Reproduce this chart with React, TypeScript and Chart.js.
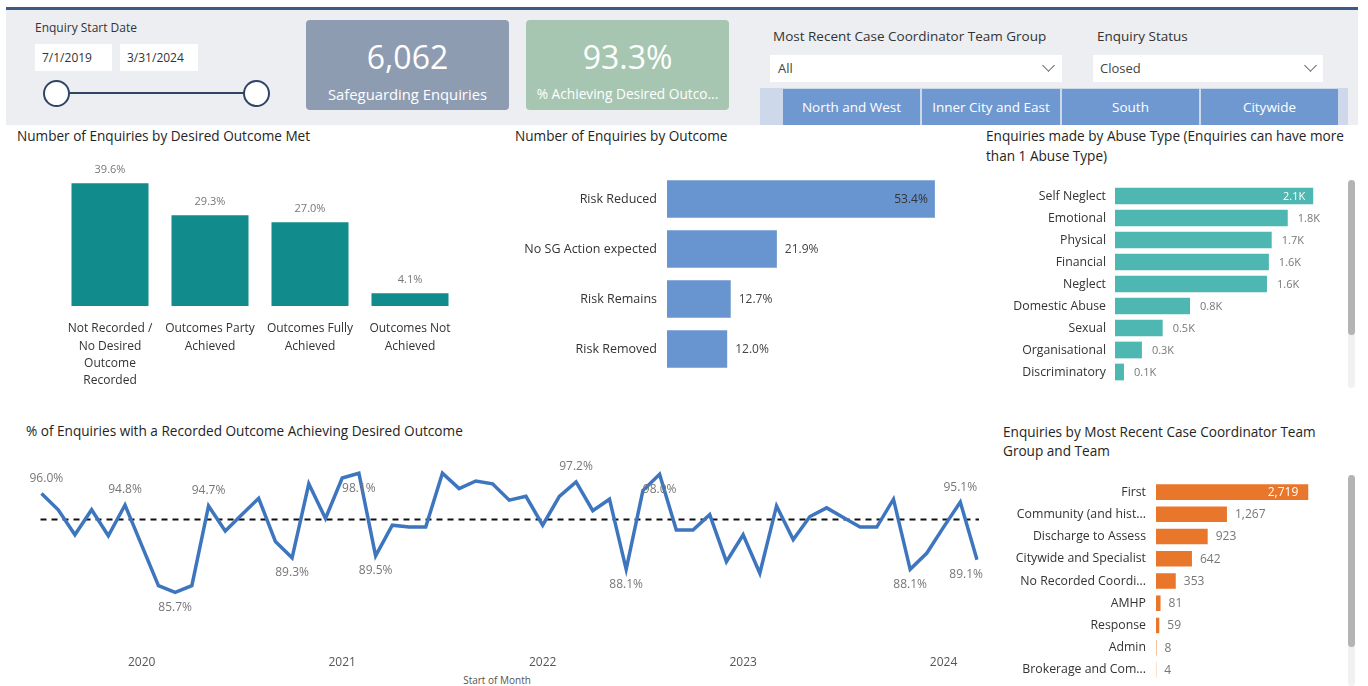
import React, { useEffect, useRef } from "react";
import { Chart, registerables } from "chart.js";
Chart.register(...registerables);

const FONT = "'Open Sans', 'Noto Sans', 'DejaVu Sans', sans-serif";

// ---------------- data ----------------
const outcomeMetCategories = [
  ["Not Recorded /", "No Desired", "Outcome", "Recorded"],
  ["Outcomes Party", "Achieved"],
  ["Outcomes Fully", "Achieved"],
  ["Outcomes Not", "Achieved"],
];
const outcomeMetValues = [39.6, 29.3, 27.0, 4.1];

const outcomeCategories = ["Risk Reduced", "No SG Action expected", "Risk Remains", "Risk Removed"];
const outcomeValues = [53.4, 21.9, 12.7, 12.0];

const abuseCategories = [
  "Self Neglect",
  "Emotional",
  "Physical",
  "Financial",
  "Neglect",
  "Domestic Abuse",
  "Sexual",
  "Organisational",
  "Discriminatory",
];
const abuseValues = [2100, 1830, 1660, 1630, 1610, 795, 505, 285, 95];

const teamCategories = [
  "First",
  "Community (and hist...",
  "Discharge to Assess",
  "Citywide and Specialist",
  "No Recorded Coordi...",
  "AMHP",
  "Response",
  "Admin",
  "Brokerage and Com...",
];
const teamValues = [2719, 1267, 923, 642, 353, 81, 59, 8, 4];

const monthLabels = [
  "Jul 2019", "Aug 2019", "Sep 2019", "Oct 2019", "Nov 2019", "Dec 2019",
  "Jan 2020", "Feb 2020", "Mar 2020", "Apr 2020", "May 2020", "Jun 2020",
  "Jul 2020", "Aug 2020", "Sep 2020", "Oct 2020", "Nov 2020", "Dec 2020",
  "Jan 2021", "Feb 2021", "Mar 2021", "Apr 2021", "May 2021", "Jun 2021",
  "Jul 2021", "Aug 2021", "Sep 2021", "Oct 2021", "Nov 2021", "Dec 2021",
  "Jan 2022", "Feb 2022", "Mar 2022", "Apr 2022", "May 2022", "Jun 2022",
  "Jul 2022", "Aug 2022", "Sep 2022", "Oct 2022", "Nov 2022", "Dec 2022",
  "Jan 2023", "Feb 2023", "Mar 2023", "Apr 2023", "May 2023", "Jun 2023",
  "Jul 2023", "Aug 2023", "Sep 2023", "Oct 2023", "Nov 2023", "Dec 2023",
  "Jan 2024", "Feb 2024", "Mar 2024",
];
const pctAchieving = [
  96.0, 94.3, 91.7, 94.3, 91.6, 94.8,
  90.6, 86.4, 85.7, 86.4, 94.7, 92.1,
  93.8, 95.5, 91.0, 89.3, 97.0, 93.4,
  97.6, 98.1, 89.5, 92.7, 92.5, 92.5,
  98.1, 96.5, 97.3, 97.0, 95.3, 95.7,
  92.7, 95.7, 97.2, 94.2, 95.4, 88.1,
  96.3, 98.0, 92.2, 92.2, 93.8, 88.9,
  91.7, 87.7, 94.7, 91.2, 93.6, 94.5,
  93.5, 92.5, 92.5, 95.4, 88.1, 89.8,
  92.5, 95.1, 89.1,
];
const pctAverage = 93.3;
// which points carry a data label, and whether it sits above (a) or below (b)
const lineLabelIndex = [0, 5, 8, 10, 15, 19, 20, 32, 35, 37, 52, 55, 56];
const lineLabelSide = ["a", "a", "b", "a", "b", "b", "b", "a", "b", "b", "b", "a", "b"];

// ---------------- helpers ----------------
function Txt(props: any) {
  const { x, y, size = 13, color = "#252423", children, width, align = "left", weight = 400 } = props;
  return (
    <div
      style={{
        position: "absolute",
        left: x,
        top: y - 12,
        height: 24,
        lineHeight: "24px",
        fontSize: size,
        color,
        width,
        textAlign: align,
        fontWeight: weight,
        whiteSpace: "nowrap",
        fontFamily: FONT,
      }}
    >
      {children}
    </div>
  );
}

function ChartCanvas(props: any) {
  const { left, top, width, height, make } = props;
  const ref = useRef<HTMLCanvasElement>(null);
  useEffect(() => {
    const chart = new Chart(ref.current as HTMLCanvasElement, make());
    return () => chart.destroy();
  }, []);
  return (
    <canvas
      ref={ref}
      width={width}
      height={height}
      style={{ position: "absolute", left, top, width, height }}
    />
  );
}

function hbarLabelPlugin(values: number[], fmt: (v: number) => string, insideIdx: number[], o: any) {
  return {
    id: "hbarLabels",
    afterDatasetsDraw(chart: any) {
      const ctx = chart.ctx;
      const meta = chart.getDatasetMeta(0);
      ctx.save();
      ctx.font = `${o.size}px ${FONT}`;
      ctx.textBaseline = "middle";
      meta.data.forEach((el: any, i: number) => {
        const t = fmt(values[i]);
        if (insideIdx.indexOf(i) >= 0) {
          ctx.textAlign = "right";
          ctx.fillStyle = o.inColor;
          ctx.fillText(t, el.x - o.inGap, el.y + 0.5);
        } else {
          ctx.textAlign = "left";
          ctx.fillStyle = o.outColor;
          ctx.fillText(t, el.x + o.outGap, el.y + 0.5);
        }
      });
      ctx.restore();
    },
  };
}

function hbarConfig(
  labels: string[],
  values: number[],
  color: string,
  max: number,
  axisW: number,
  pad: any,
  barPct: number,
  tickPad: number,
  tickSize: number,
  plugin: any
) {
  return {
    type: "bar",
    data: {
      labels,
      datasets: [{ data: values, backgroundColor: color, barPercentage: barPct, categoryPercentage: 1 }],
    },
    options: {
      animation: false,
      responsive: false,
      indexAxis: "y",
      layout: { padding: pad },
      plugins: { legend: { display: false }, tooltip: { enabled: false } },
      scales: {
        x: { display: false, min: 0, max },
        y: {
          grid: { display: false, drawTicks: false },
          border: { display: false },
          ticks: { color: "#333", font: { family: FONT, size: tickSize }, padding: tickPad, autoSkip: false },
          afterFit: (s: any) => {
            s.width = axisW;
            s.paddingTop = 0;
            s.paddingBottom = 0;
          },
        },
      },
    },
    plugins: [plugin],
  } as any;
}

// ---------------- charts ----------------
const makeOutcomeMet = () =>
  ({
    type: "bar",
    data: {
      labels: outcomeMetCategories,
      datasets: [
        { data: outcomeMetValues, backgroundColor: "#118b8c", barPercentage: 0.77, categoryPercentage: 1 },
      ],
    },
    options: {
      animation: false,
      responsive: false,
      layout: { padding: { top: 1, left: 0, right: 0, bottom: 0 } },
      plugins: { legend: { display: false }, tooltip: { enabled: false } },
      scales: {
        x: {
          grid: { display: false, drawTicks: false },
          border: { display: false },
          ticks: {
            color: "#333",
            font: { family: FONT, size: 12, lineHeight: 1.45 },
            padding: 14,
            maxRotation: 0,
            autoSkip: false,
          },
          afterFit: (s: any) => {
            s.height = 94;
            s.paddingLeft = 0;
            s.paddingRight = 0;
          },
        },
        y: { display: false, min: 0, max: 50 },
      },
    },
    plugins: [
      {
        id: "vlabels",
        afterDatasetsDraw(chart: any) {
          const ctx = chart.ctx;
          const meta = chart.getDatasetMeta(0);
          ctx.save();
          ctx.font = `11px ${FONT}`;
          ctx.fillStyle = "#777";
          ctx.textAlign = "center";
          ctx.textBaseline = "middle";
          meta.data.forEach((el: any, i: number) => {
            ctx.fillText(outcomeMetValues[i].toFixed(1) + "%", el.x, el.y - 13);
          });
          ctx.restore();
        },
      },
    ],
  }) as any;

const makeOutcome = () =>
  hbarConfig(
    outcomeCategories,
    outcomeValues,
    "#6895cf",
    60,
    167,
    { top: 14, bottom: 16, right: 12, left: 0 },
    0.75,
    10,
    12.5,
    hbarLabelPlugin(outcomeValues, (v) => v.toFixed(1) + "%", [0], {
      size: 12,
      inColor: "#333",
      outColor: "#444",
      inGap: 7,
      outGap: 8,
    })
  );

const makeAbuse = () =>
  hbarConfig(
    abuseCategories,
    abuseValues,
    "#4fb7b2",
    2500,
    135,
    { top: 5, bottom: 7, right: 4, left: 0 },
    0.76,
    9,
    12.3,
    hbarLabelPlugin(abuseValues, (v) => (v / 1000).toFixed(1) + "K", [0], {
      size: 11,
      inColor: "#fff",
      outColor: "#777",
      inGap: 8,
      outGap: 10,
    })
  );

const makeTeam = () =>
  hbarConfig(
    teamCategories,
    teamValues,
    "#e8772c",
    3000,
    166,
    { top: 11, bottom: 5, right: 26, left: 0 },
    0.7,
    10,
    12.3,
    hbarLabelPlugin(teamValues, (v) => v.toLocaleString("en-US"), [0], {
      size: 12,
      inColor: "#fff",
      outColor: "#777",
      inGap: 10,
      outGap: 8,
    })
  );

const makeLine = () =>
  ({
    type: "line",
    data: {
      labels: monthLabels,
      datasets: [
        {
          data: pctAchieving,
          borderColor: "#3d76bf",
          borderWidth: 3.5,
          pointRadius: 0,
          tension: 0,
          fill: false,
        },
      ],
    },
    options: {
      animation: false,
      responsive: false,
      layout: { padding: { left: 41.5, right: 23, top: 15, bottom: 0 } },
      plugins: { legend: { display: false }, tooltip: { enabled: false } },
      scales: {
        x: {
          grid: { display: false, drawTicks: false },
          border: { display: false },
          ticks: {
            autoSkip: false,
            maxRotation: 0,
            minRotation: 0,
            padding: 27,
            color: "#555",
            font: { family: FONT, size: 12 },
            callback: (_v: any, i: number) =>
              monthLabels[i].startsWith("Jan") ? monthLabels[i].slice(4) : "",
          },
          afterFit: (s: any) => {
            s.height = 58;
            s.paddingLeft = 0;
            s.paddingRight = 0;
          },
        },
        y: { display: false, min: 82, max: 100 },
      },
    },
    plugins: [
      {
        id: "avgLine",
        beforeDatasetsDraw(chart: any) {
          const ctx = chart.ctx;
          const y = chart.scales.y.getPixelForValue(pctAverage);
          ctx.save();
          ctx.strokeStyle = "#111";
          ctx.lineWidth = 2;
          ctx.setLineDash([6, 5]);
          ctx.beginPath();
          ctx.moveTo(chart.chartArea.left - 1, y);
          ctx.lineTo(chart.chartArea.right + 2, y);
          ctx.stroke();
          ctx.restore();
        },
      },
      {
        id: "lineLabels",
        afterDatasetsDraw(chart: any) {
          const ctx = chart.ctx;
          const meta = chart.getDatasetMeta(0);
          const area = chart.chartArea;
          ctx.save();
          ctx.font = `12px ${FONT}`;
          ctx.fillStyle = "#777";
          ctx.textAlign = "center";
          ctx.textBaseline = "middle";
          lineLabelIndex.forEach((idx, k) => {
            const pt = meta.data[idx];
            const t = pctAchieving[idx].toFixed(1) + "%";
            const w = ctx.measureText(t).width;
            let x = pt.x;
            if (x - w / 2 < area.left - 12) x = area.left - 12 + w / 2;
            if (x + w / 2 > area.right + 6) x = area.right + 6 - w / 2;
            const y = lineLabelSide[k] === "a" ? pt.y - 15 : pt.y + 15;
            ctx.fillText(t, x, y);
          });
          ctx.restore();
        },
      },
    ],
  }) as any;

// ---------------- UI pieces ----------------
function Chevron(props: any) {
  return (
    <div
      style={{
        position: "absolute",
        left: props.x,
        top: props.y,
        width: 8,
        height: 8,
        borderRight: "1px solid #666",
        borderBottom: "1px solid #666",
        transform: "rotate(45deg)",
      }}
    />
  );
}

function Box(props: any) {
  return <div style={{ position: "absolute", ...props.s }}>{props.children}</div>;
}

const buttons = [
  { label: "North and West", x: 783, w: 137 },
  { label: "Inner City and East", x: 922, w: 138 },
  { label: "South", x: 1062, w: 137 },
  { label: "Citywide", x: 1201, w: 137 },
];

export default function App() {
  return (
    <div
      style={{
        position: "absolute",
        left: 0,
        top: 0,
        width: 1368,
        height: 686,
        overflow: "hidden",
        background: "#ffffff",
        fontFamily: FONT,
      }}
    >
      {/* top band */}
      <Box s={{ left: 6, top: 10, width: 1352, height: 115, background: "#eceef2" }} />
      <Box s={{ left: 6, top: 7, width: 1352, height: 3, background: "#3c5b82" }} />

      {/* date slicer */}
      <Txt x={35} y={28} size={12} color="#333">Enquiry Start Date</Txt>
      <Box s={{ left: 35, top: 44, width: 77, height: 27, background: "#fff" }} />
      <Box s={{ left: 120, top: 44, width: 78, height: 27, background: "#fff" }} />
      <Txt x={42} y={58} size={12} color="#333">7/1/2019</Txt>
      <Txt x={127} y={58} size={12} color="#333">3/31/2024</Txt>
      <Box s={{ left: 56, top: 92, width: 200, height: 2, background: "#2f4466" }} />
      <Box
        s={{ left: 43, top: 80, width: 23, height: 23, borderRadius: "50%", background: "#fff", border: "2px solid #2f4466" }}
      />
      <Box
        s={{ left: 243, top: 80, width: 23, height: 23, borderRadius: "50%", background: "#fff", border: "2px solid #2f4466" }}
      />

      {/* cards */}
      <Box s={{ left: 306, top: 20, width: 203, height: 90, background: "#8e9cb1", borderRadius: 4 }} />
      <Txt x={306} y={57} size={32} color="#fff" width={203} align="center">6,062</Txt>
      <Txt x={306} y={94} size={14.8} color="#fff" width={203} align="center">Safeguarding Enquiries</Txt>
      <Box s={{ left: 526, top: 20, width: 203, height: 90, background: "#a6c6b1", borderRadius: 4 }} />
      <Txt x={526} y={57} size={32} color="#fff" width={203} align="center">93.3%</Txt>
      <Txt x={526} y={94} size={13.7} color="#fff" width={203} align="center">% Achieving Desired Outco...</Txt>

      {/* dropdown slicers */}
      <Txt x={773} y={36} size={13.5} color="#333">Most Recent Case Coordinator Team Group</Txt>
      <Box s={{ left: 770, top: 55, width: 292, height: 27, background: "#fff" }} />
      <Txt x={778} y={68} size={13} color="#444">All</Txt>
      <Chevron x={1044} y={61} />
      <Txt x={1097} y={36} size={13.5} color="#333">Enquiry Status</Txt>
      <Box s={{ left: 1093, top: 55, width: 230, height: 27, background: "#fff" }} />
      <Txt x={1100} y={68} size={13} color="#444">Closed</Txt>
      <Chevron x={1306} y={61} />

      {/* team group buttons */}
      <Box s={{ left: 760, top: 88, width: 588, height: 37, background: "#cdd8ea" }} />
      {buttons.map((b) => (
        <React.Fragment key={b.label}>
          <Box s={{ left: b.x, top: 89, width: b.w, height: 36, background: "#6f98d0" }} />
          <Txt x={b.x} y={107} size={13.5} color="#fff" width={b.w} align="center">{b.label}</Txt>
        </React.Fragment>
      ))}

      {/* titles */}
      <Txt x={17} y={136} size={13.6}>Number of Enquiries by Desired Outcome Met</Txt>
      <Txt x={515} y={136} size={13.6}>Number of Enquiries by Outcome</Txt>
      <Txt x={986} y={136} size={13.6}>Enquiries made by Abuse Type (Enquiries can have more</Txt>
      <Txt x={986} y={156} size={13.6}>than 1 Abuse Type)</Txt>
      <Txt x={26} y={431} size={13.6}>% of Enquiries with a Recorded Outcome Achieving Desired Outcome</Txt>
      <Txt x={1003} y={432} size={13.6}>Enquiries by Most Recent Case Coordinator Team</Txt>
      <Txt x={1003} y={451} size={13.6}>Group and Team</Txt>
      <Txt x={397} y={680} size={10} color="#555" width={200} align="center">Start of Month</Txt>

      {/* charts */}
      <ChartCanvas left={60} top={150} width={400} height={250} make={makeOutcomeMet} />
      <ChartCanvas left={500} top={160} width={480} height={230} make={makeOutcome} />
      <ChartCanvas left={980} top={180} width={375} height={210} make={makeAbuse} />
      <ChartCanvas left={990} top={470} width={360} height={216} make={makeTeam} />
      <ChartCanvas left={0} top={440} width={1000} height={246} make={makeLine} />

      {/* scrollbars */}
      <Box s={{ left: 1348, top: 180, width: 7, height: 208, background: "#f1f1f1", borderRadius: 4 }} />
      <Box s={{ left: 1348, top: 180, width: 7, height: 155, background: "#b4b4b4", borderRadius: 4 }} />
      <Box s={{ left: 1348, top: 475, width: 7, height: 211, background: "#f1f1f1", borderRadius: 4 }} />
      <Box s={{ left: 1348, top: 475, width: 7, height: 172, background: "#b4b4b4", borderRadius: 4 }} />
    </div>
  );
}
